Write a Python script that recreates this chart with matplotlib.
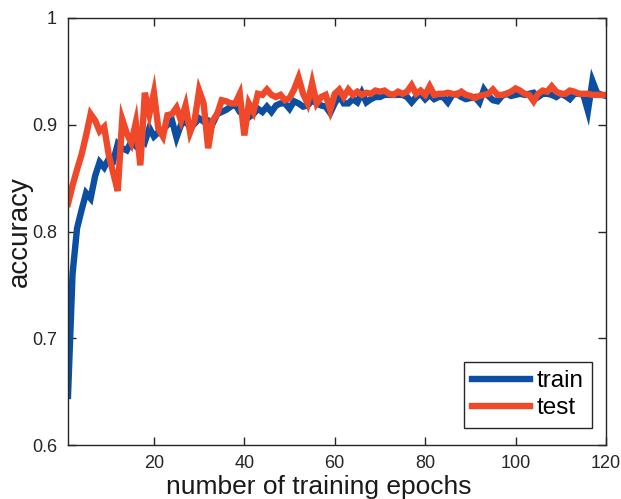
import matplotlib
matplotlib.use("Agg")
import matplotlib.pyplot as plt
import numpy as np

epochs = list(range(1, 121))
train_acc = [
    0.646, 0.760, 0.803, 0.820, 0.836, 0.831, 0.852, 0.865, 0.860, 0.868,
    0.866, 0.882, 0.878, 0.876, 0.884, 0.880, 0.889, 0.884, 0.897, 0.889,
    0.893, 0.895, 0.900, 0.904, 0.888, 0.900, 0.904, 0.897, 0.901, 0.906,
    0.903, 0.904, 0.901, 0.910, 0.912, 0.914, 0.917, 0.919, 0.912, 0.909,
    0.907, 0.910, 0.915, 0.912, 0.917, 0.912, 0.918, 0.920, 0.920, 0.915,
    0.922, 0.920, 0.917, 0.918, 0.923, 0.920, 0.918, 0.917, 0.911, 0.920,
    0.927, 0.920, 0.920, 0.924, 0.921, 0.930, 0.921, 0.924, 0.926, 0.926,
    0.928, 0.928, 0.928, 0.928, 0.928, 0.926, 0.921, 0.926, 0.929, 0.924,
    0.928, 0.924, 0.926, 0.926, 0.921, 0.928, 0.929, 0.926, 0.924, 0.925,
    0.926, 0.921, 0.933, 0.927, 0.923, 0.922, 0.927, 0.929, 0.927, 0.928,
    0.929, 0.928, 0.929, 0.930, 0.926, 0.929, 0.929, 0.928, 0.926, 0.929,
    0.927, 0.924, 0.929, 0.929, 0.928, 0.913, 0.941, 0.930, 0.928, 0.927,
]
test_acc = [
    0.826, 0.843, 0.858, 0.872, 0.890, 0.910, 0.904, 0.894, 0.898, 0.872,
    0.855, 0.838, 0.905, 0.892, 0.883, 0.902, 0.862, 0.930, 0.910, 0.930,
    0.896, 0.889, 0.909, 0.910, 0.916, 0.904, 0.918, 0.893, 0.904, 0.932,
    0.920, 0.878, 0.904, 0.910, 0.923, 0.922, 0.920, 0.920, 0.929, 0.890,
    0.920, 0.912, 0.929, 0.928, 0.933, 0.928, 0.926, 0.928, 0.923, 0.925,
    0.933, 0.944, 0.929, 0.920, 0.939, 0.920, 0.926, 0.928, 0.914, 0.929,
    0.933, 0.926, 0.933, 0.928, 0.931, 0.928, 0.930, 0.929, 0.932, 0.931,
    0.932, 0.929, 0.928, 0.931, 0.929, 0.931, 0.937, 0.929, 0.932, 0.928,
    0.936, 0.928, 0.929, 0.929, 0.930, 0.929, 0.928, 0.931, 0.928, 0.927,
    0.925, 0.927, 0.928, 0.929, 0.933, 0.928, 0.928, 0.929, 0.931, 0.934,
    0.932, 0.929, 0.928, 0.922, 0.929, 0.932, 0.931, 0.936, 0.931, 0.929,
    0.929, 0.932, 0.931, 0.929, 0.929, 0.929, 0.928, 0.928, 0.928, 0.928,
]
x_ticks = [20, 40, 60, 80, 100, 120]
y_ticks = [0.6, 0.7, 0.8, 0.9, 1.0]
y_tick_labels = ["0.6", "0.7", "0.8", "0.9", "1"]

plt.rcParams['font.family'] = ['Liberation Sans', 'DejaVu Sans']

fig = plt.figure(figsize=(6.21, 4.99), dpi=100)
ax = fig.add_axes([68/621, 54/499, 538/621, 427/499])

ax.plot(epochs, train_acc, color='#0b4ea2', lw=4.6, label='train', solid_joinstyle='miter')
ax.plot(epochs, test_acc, color='#f0492a', lw=4.6, label='test', solid_joinstyle='miter')

ax.set_xlim(1, 120)
ax.set_ylim(0.6, 1.0)
ax.set_xticks(x_ticks)
ax.set_yticks(y_ticks)
ax.set_yticklabels(y_tick_labels)
ax.tick_params(direction='in', top=True, right=True, length=6, width=1,
               labelsize=13, colors='#262626', pad=8)
ax.tick_params(axis='x', pad=7)
for s in ax.spines.values():
    s.set_color('#262626')
    s.set_linewidth(1.0)

ax.set_xlabel('number of training epochs', fontsize=19, color='#1a1a1a')
ax.xaxis.set_label_coords(0.466, -0.071)
ax.set_ylabel('accuracy', fontsize=20, color='#1a1a1a')
ax.yaxis.set_label_coords(-0.066, 0.5)

leg = ax.legend(loc='lower right', bbox_to_anchor=(0.974, 0.04), fontsize=17.5,
                handlelength=2.4, handletextpad=0.25, borderpad=0.35,
                labelspacing=0.22, fancybox=False, framealpha=1,
                edgecolor='#262626', borderaxespad=0)
leg.get_frame().set_linewidth(1.0)

fig.savefig('out.png', dpi=100)
